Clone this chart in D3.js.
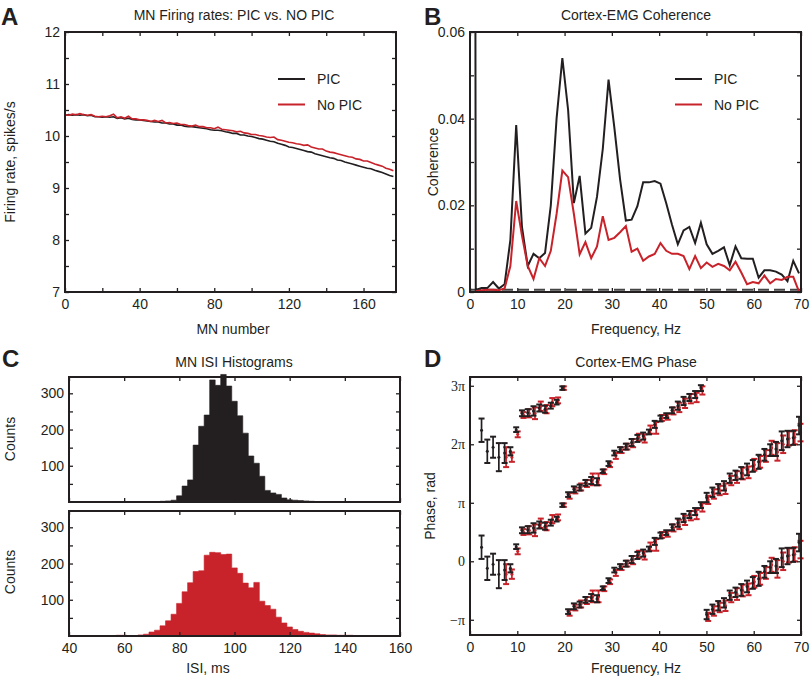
<!DOCTYPE html>
<html><head><meta charset="utf-8">
<script src="https://cdn.jsdelivr.net/npm/d3@7"></script>
<style>
body{margin:0;background:#fff;}
text{font-family:"Liberation Sans",Arial,sans-serif;fill:#231f20;}
</style></head><body>
<svg id="c" width="810" height="677"></svg>
<script>
// ---------- DATA ----------
// Panel A: firing rate vs MN number
const mnNumber = d3.range(0, 177, 2);
const ratePIC = [10.40,10.41,10.40,10.41,10.40,10.41,10.39,10.40,10.37,10.37,
10.36,10.37,10.36,10.37,10.34,10.35,10.33,10.34,10.32,10.31,
10.31,10.30,10.29,10.28,10.27,10.27,10.25,10.25,10.23,10.23,
10.21,10.21,10.19,10.18,10.18,10.17,10.16,10.15,10.14,10.12,
10.11,10.11,10.10,10.08,10.07,10.05,10.05,10.02,10.02,10.00,
9.99,9.97,9.95,9.94,9.92,9.90,9.89,9.86,9.84,9.82,
9.79,9.78,9.76,9.74,9.72,9.70,9.69,9.66,9.64,9.62,
9.60,9.58,9.57,9.54,9.53,9.50,9.48,9.46,9.44,9.42,
9.40,9.38,9.37,9.34,9.32,9.30,9.27,9.24,9.22];
const rateNoPIC = [10.41,10.40,10.42,10.41,10.43,10.41,10.40,10.41,10.38,10.37,
10.38,10.37,10.39,10.42,10.35,10.37,10.34,10.38,10.33,10.33,
10.31,10.31,10.30,10.28,10.30,10.28,10.30,10.25,10.26,10.24,
10.25,10.22,10.22,10.20,10.19,10.21,10.18,10.18,10.16,10.16,
10.14,10.17,10.13,10.12,10.11,10.10,10.08,10.09,10.06,10.05,
10.03,10.03,10.01,10.00,9.98,9.97,9.98,9.93,9.92,9.90,
9.88,9.87,9.85,9.84,9.82,9.83,9.79,9.77,9.75,9.75,
9.71,9.69,9.68,9.66,9.64,9.62,9.60,9.59,9.56,9.55,
9.52,9.52,9.49,9.46,9.44,9.42,9.38,9.36,9.33];

// Panel B: coherence spectra
const freqHz = [0,1.22,2.44,3.66,4.88,6.10,7.32,8.54,9.77,10.99,12.21,13.43,14.65,15.87,17.09,18.31,19.53,20.75,21.97,23.19,
24.41,25.63,26.86,28.08,29.30,30.52,31.74,32.96,34.18,35.40,36.62,37.84,39.06,40.28,41.50,42.72,43.95,45.17,46.39,47.61,
48.83,50.05,51.27,52.49,53.71,54.93,56.15,57.37,58.59,59.81,61.04,62.26,63.48,64.70,65.92,67.14,68.36,69.58];
const cohPIC = [1.0,0.0005,0.0009,0.0009,0.0023,0.0008,0.0018,0.012,0.0385,0.015,0.006,0.0088,0.0078,0.009,0.020,0.040,0.054,0.042,0.0205,0.0268,
0.0135,0.0148,0.022,0.033,0.049,0.038,0.026,0.0165,0.0167,0.0198,0.0253,0.0253,0.0256,0.025,0.0205,0.0155,0.011,0.0142,0.015,0.0113,
0.016,0.011,0.0088,0.0095,0.0103,0.0062,0.0105,0.0078,0.0077,0.0077,0.0033,0.005,0.005,0.0047,0.004,0.0025,0.0072,0.0043];
const cohNoPIC = [null,0.0002,0.0004,0.0005,0.0005,0.0004,0.0008,0.006,0.021,0.013,0.006,0.003,0.0078,0.006,0.0095,0.018,0.028,0.0265,0.018,0.0087,
0.0115,0.0078,0.0105,0.0175,0.012,0.0125,0.0138,0.0152,0.0093,0.010,0.0072,0.0082,0.0088,0.0113,0.0095,0.0088,0.0088,0.0083,0.0053,0.0083,
0.0055,0.0068,0.0058,0.0065,0.006,0.005,0.007,0.0045,0.0018,0.0023,0.002,0.0038,0.002,0.003,0.0028,0.0035,0.0035,0.0001];
const cohSignificance = 0.0005;

// Panel C: ISI histograms (2 ms bins)
const isiBinCenters = d3.range(56, 150, 2);
const countsPIC = [0,0,0,0,0,1,1,1,1,2,3,5,17,44,61,157,209,240,337,322,352,320,278,238,190,127,107,71,32,25,21,11,6,5,4,3,2,1,1,1,1,1,0,0,0,0,0];
const countsNoPIC = [1,2,2,1,1,3,5,11,16,28,42,60,90,122,147,178,180,223,231,230,225,226,188,173,146,133,148,96,84,74,52,36,25,18,13,10,8,6,4,3,3,2,2,2,1,1,1];

// Panel D: phase (units of pi) with error half-widths, for freqHz[2..57]
const phaseFreq = freqHz.slice(2);
const phasePIC = [0.24,-0.12,-0.05,-0.22,-0.15,-0.12,0.25,0.53,0.54,0.57,0.62,0.60,0.66,0.72,0.96,
-0.86,-0.77,-0.74,-0.66,-0.62,-0.64,-0.46,-0.33,-0.15,-0.09,-0.04,0.03,0.10,0.14,0.21,0.34,0.44,0.49,0.58,0.66,0.74,0.80,0.85,0.96,
-0.91,-0.82,-0.76,-0.71,-0.58,-0.53,-0.49,-0.43,-0.37,-0.30,-0.18,-0.10,-0.08,0.06,0.09,0.11,0.32];
const errPIC = [0.2,0.2,0.18,0.24,0.17,0.07,0.04,0.05,0.06,0.08,0.06,0.06,0.05,0.04,0.03,
0.04,0.05,0.05,0.05,0.06,0.06,0.03,0.04,0.04,0.04,0.05,0.06,0.06,0.06,0.04,0.06,0.05,0.04,0.05,0.07,0.07,0.06,0.06,0.05,
0.08,0.08,0.08,0.08,0.08,0.08,0.1,0.1,0.1,0.12,0.1,0.1,0.12,0.16,0.14,0.12,0.15];
const phaseNoPIC = [null,null,null,null,-0.22,-0.22,0.17,0.50,0.53,0.53,0.65,0.60,0.72,0.75,0.96,
-0.88,-0.79,-0.73,-0.67,-0.60,-0.60,-0.47,-0.35,-0.20,-0.10,-0.04,0.02,0.12,0.10,0.25,0.28,0.45,0.47,0.57,0.63,0.70,0.78,0.80,0.92,
-0.95,-0.85,-0.79,-0.76,-0.62,-0.56,-0.50,-0.48,-0.35,-0.30,-0.20,-0.06,-0.13,0.00,0.10,0.12,0.20];
const errNoPIC = [null,null,null,null,0.17,0.08,0.05,0.05,0.07,0.1,0.08,0.07,0.07,0.05,0.03,
0.05,0.05,0.06,0.06,0.1,0.1,0.04,0.04,0.05,0.05,0.05,0.07,0.06,0.07,0.07,0.1,0.05,0.05,0.06,0.08,0.08,0.08,0.08,0.07,
0.07,0.08,0.08,0.09,0.08,0.1,0.1,0.1,0.1,0.1,0.1,0.12,0.15,0.15,0.12,0.12,0.15];

const seriesNames = ["PIC", "No PIC"];

// ---------- DRAWING ----------
const INK = "#231f20", RED = "#c8222a";
const svg = d3.select("#c");

function axes(xs, ys, o) {
  const g = svg.append("g");
  const [x0, x1] = xs.range(), [y1, y0] = ys.range();
  g.append("g").attr("transform", `translate(0,${y1})`)
    .call(d3.axisBottom(xs).tickValues(o.xTicks).tickSize(-4).tickPadding(7).tickFormat(o.xFmt));
  g.append("g").attr("transform", `translate(0,${y0})`)
    .call(d3.axisTop(xs).tickValues(o.xTicks).tickSize(-4).tickFormat(""));
  g.append("g").attr("transform", `translate(${x0},0)`)
    .call(d3.axisLeft(ys).tickValues(o.yTicks).tickSize(-4).tickPadding(5).tickFormat(o.yFmt));
  g.append("g").attr("transform", `translate(${x1},0)`)
    .call(d3.axisRight(ys).tickValues(o.yTicks).tickSize(-4).tickFormat(""));
  g.selectAll(".domain").remove();
  g.selectAll(".tick line").attr("stroke", INK).attr("stroke-width", 1.3);
  g.selectAll(".tick text").attr("fill", INK).style("font-size", "14px")
    .style("font-family", "'Liberation Sans', Arial, sans-serif");
  if (o.yFont) g.selectAll("g:nth-child(3) .tick text").style("font-family", o.yFont);
  g.append("rect").attr("x", x0).attr("y", y0).attr("width", x1 - x0).attr("height", y1 - y0)
    .attr("fill", "none").attr("stroke", INK).attr("stroke-width", 2);
  return g;
}
function label(x, y, txt, o = {}) {
  const t = svg.append("text").attr("x", x).attr("y", y).text(txt)
    .attr("text-anchor", o.anchor || "middle").style("font-size", (o.size || 14) + "px");
  if (o.rotate) t.attr("transform", `rotate(-90,${x},${y})`);
  if (o.bold) t.style("font-weight", "bold");
  return t;
}
function legend(x, y, colors) {
  seriesNames.forEach((n, i) => {
    const yy = y + i * 25.5;
    svg.append("line").attr("x1", x).attr("x2", x + 27).attr("y1", yy).attr("y2", yy)
      .attr("stroke", colors[i]).attr("stroke-width", 2);
    svg.append("text").attr("x", x + 39).attr("y", yy + 5).text(n).style("font-size", "14px");
  });
}

// ----- Panel A -----
{
  const xs = d3.scaleLinear([0, 177.4], [65, 396]);
  const ys = d3.scaleLinear([7, 12], [292, 32]);
  const line = d3.line().x((d, i) => xs(mnNumber[i])).y(d => ys(d));
  svg.append("path").attr("d", line(ratePIC)).attr("fill", "none").attr("stroke", INK).attr("stroke-width", 1.6);
  svg.append("path").attr("d", line(rateNoPIC)).attr("fill", "none").attr("stroke", RED).attr("stroke-width", 1.6);
  axes(xs, ys, {
    xTicks: d3.range(0, 161, 20), xFmt: d => d % 40 === 0 ? d : "",
    yTicks: d3.range(7, 12.01, 0.5), yFmt: d => Number.isInteger(d) ? d : ""
  });
  legend(278, 79, [INK, RED]);
  label(234, 20, "MN Firing rates: PIC vs. NO PIC");
  label(233, 334, "MN number");
  label(15, 162, "Firing rate, spikes/s", { rotate: true });
  label(1, 25, "A", { anchor: "start", size: 24, bold: true });
}

// ----- Panel B -----
{
  const xs = d3.scaleLinear([0, 70], [470, 801]);
  const ys = d3.scaleLinear([0, 0.06], [292, 32]);
  svg.append("clipPath").attr("id", "clipB").append("rect")
    .attr("x", 470).attr("y", 32).attr("width", 331).attr("height", 260);
  const gB = svg.append("g").attr("clip-path", "url(#clipB)");
  gB.append("line").attr("x1", xs(0)).attr("x2", xs(70)).attr("y1", ys(cohSignificance)).attr("y2", ys(cohSignificance))
    .attr("stroke", "#444").attr("stroke-width", 2).attr("stroke-dasharray", "11,5");
  const line = d3.line().defined(d => d[1] != null).x(d => xs(d[0])).y(d => ys(d[1]));
  gB.append("path").attr("d", line(freqHz.map((f, i) => [f, cohPIC[i]])))
    .attr("fill", "none").attr("stroke", INK).attr("stroke-width", 2);
  gB.append("path").attr("d", line(freqHz.map((f, i) => [f, cohNoPIC[i]])))
    .attr("fill", "none").attr("stroke", RED).attr("stroke-width", 2);
  const yt = [0, 0.01, 0.02, 0.03, 0.04, 0.05, 0.06];
  axes(xs, ys, {
    xTicks: d3.range(0, 71, 10), xFmt: d => d,
    yTicks: yt, yFmt: d => (Math.round(d * 100) % 2 === 0) ? (d === 0 ? "0" : d.toFixed(2)) : ""
  });
  legend(675, 79, [INK, RED]);
  label(636, 20, "Cortex-EMG Coherence");
  label(636, 334, "Frequency, Hz");
  label(438, 162, "Coherence", { rotate: true });
  label(424, 25, "B", { anchor: "start", size: 24, bold: true });
}

// ----- Panel C -----
{
  const xs = d3.scaleLinear([40, 160], [69, 400]);
  const ysTop = d3.scaleLinear([0, 345], [502, 377]);
  const ysBot = d3.scaleLinear([0, 345], [636, 511]);
  function hist(ys, counts, color) {
    // one solid stepped outline built from the bins
    const pts = [];
    counts.forEach((c, i) => {
      pts.push([isiBinCenters[i] - 1, c], [isiBinCenters[i] + 1, c]);
    });
    const area = d3.area().x(d => xs(d[0])).y0(ys(0)).y1(d => ys(d[1]));
    svg.append("path").attr("d", area(pts)).attr("fill", color).attr("stroke", color).attr("stroke-width", 0.6);
  }
  hist(ysTop, countsPIC, INK);
  hist(ysBot, countsNoPIC, RED);
  const yFmt = d => d % 100 === 0 ? d : "";
  axes(xs, ysTop, { xTicks: d3.range(40, 161, 20), xFmt: () => "", yTicks: d3.range(50, 301, 50), yFmt });
  axes(xs, ysBot, { xTicks: d3.range(40, 161, 20), xFmt: d => d, yTicks: d3.range(50, 301, 50), yFmt });
  label(234, 367, "MN ISI Histograms");
  label(208, 673, "ISI, ms");
  label(15, 439, "Counts", { rotate: true });
  label(15, 572, "Counts", { rotate: true });
  label(2, 367, "C", { anchor: "start", size: 24, bold: true });
}

// ----- Panel D -----
{
  const xs = d3.scaleLinear([0, 70], [470, 801]);
  const ys = d3.scaleLinear([-1.26, 3.15], [635, 377]);
  function bars(phase, err, color, dx) {
    const g = svg.append("g").attr("stroke", color).attr("fill", color);
    phase.forEach((p, i) => {
      if (p == null) return;
      [0, 2].forEach(shift => {
        const x = xs(phaseFreq[i]) + dx;
        const yc = ys(p + shift), ylo = ys(p + shift - err[i]), yhi = ys(p + shift + err[i]);
        g.append("line").attr("x1", x).attr("x2", x).attr("y1", ylo).attr("y2", yhi).attr("stroke-width", 1.7);
        g.append("line").attr("x1", x - 3).attr("x2", x + 3).attr("y1", ylo).attr("y2", ylo).attr("stroke-width", 2);
        g.append("line").attr("x1", x - 3).attr("x2", x + 3).attr("y1", yhi).attr("y2", yhi).attr("stroke-width", 2);
        g.append("circle").attr("cx", x).attr("cy", yc).attr("r", 1.5).attr("stroke", "none");
      });
    });
  }
  bars(phaseNoPIC, errNoPIC, RED, 1.5);
  bars(phasePIC, errPIC, INK, 0);
  const piFmt = { "-1": "\u2212\u03c0", "0": "0", "1": "\u03c0", "2": "2\u03c0", "3": "3\u03c0" };
  axes(xs, ys, {
    xTicks: d3.range(0, 71, 10), xFmt: d => d,
    yTicks: [-1, 0, 1, 2, 3], yFmt: d => piFmt[String(d)],
    yFont: "'Liberation Serif', 'Times New Roman', serif"
  });
  label(636, 367, "Cortex-EMG Phase");
  label(636, 673, "Frequency, Hz");
  label(435, 506, "Phase, rad", { rotate: true });
  label(424, 367, "D", { anchor: "start", size: 24, bold: true });
}
</script></body></html>
